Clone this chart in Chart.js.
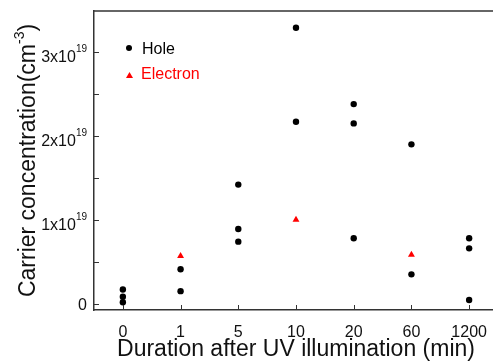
<!DOCTYPE html>
<html>
<head>
<meta charset="utf-8">
<script src="https://cdn.jsdelivr.net/npm/chart.js@4"></script>
<style>
  html, body { margin: 0; padding: 0; background: #fff; overflow: hidden; }
  #wrap { width: 510px; height: 364px; }
</style>
</head>
<body>
<div id="wrap"><canvas id="chart"></canvas></div>
<script>
// categories on the x axis (minutes after UV)
const durations = ["0", "1", "5", "10", "20", "60", "1200"];

// hole concentrations, units of 1e19 cm^-3
const holeTimes  = ["0", "0", "0", "1", "1", "5", "5", "5", "10", "10", "20", "20", "20", "60", "60", "1200", "1200", "1200"];
const holeValues = [0.17, 0.084, 0.017, 0.41, 0.15, 1.42, 0.89, 0.74, 3.29, 2.17, 2.38, 2.15, 0.78, 1.90, 0.35, 0.78, 0.66, 0.045];

// electron concentrations, units of 1e19 cm^-3
const electronTimes  = ["1", "10", "60"];
const electronValues = [0.57, 1.0, 0.585];

// y tick marks (every 0.5) and labelled ones
const yTicks = [0, 0.5, 1, 1.5, 2, 2.5, 3];
const yLabels = [[0, "0", ""], [1, "1x10", "19"], [2, "2x10", "19"], [3, "3x10", "19"]];

const FONT = "'Liberation Sans', Arial, sans-serif";
const AXIS = "#333";

const framePlugin = {
  id: "frame",
  afterDraw(chart) {
    const ctx = chart.ctx;
    const a = chart.chartArea;
    const x = chart.scales.x, y = chart.scales.y;
    ctx.save();
    ctx.strokeStyle = AXIS;
    ctx.lineWidth = 1.5;
    // top border
    ctx.beginPath();
    ctx.moveTo(a.left, a.top);
    ctx.lineTo(a.right, a.top);
    ctx.stroke();
    // inward ticks
    ctx.lineWidth = 1;
    ctx.beginPath();
    yTicks.forEach(v => {
      const py = Math.round(y.getPixelForValue(v)) + 0.5;
      ctx.moveTo(a.left, py);
      ctx.lineTo(a.left + 5, py);
    });
    durations.forEach((d, i) => {
      const px = Math.round(x.getPixelForValue(i)) + 0.5;
      ctx.moveTo(px, a.bottom);
      ctx.lineTo(px, a.bottom - 5);
    });
    ctx.stroke();

    // y tick labels with superscript
    ctx.fillStyle = "#111";
    ctx.textBaseline = "alphabetic";
    yLabels.forEach(([v, base, sup]) => {
      const py = y.getPixelForValue(v);
      const right = a.left - 7;
      ctx.font = "16px " + FONT;
      const bw = ctx.measureText(base).width;
      ctx.font = "10px " + FONT;
      const sw = sup ? ctx.measureText(sup).width : 0;
      const start = right - bw - sw;
      const baseY = sup ? py + 10 : py + 6;
      ctx.font = "16px " + FONT;
      ctx.fillText(base, start, baseY);
      if (sup) {
        ctx.font = "10px " + FONT;
        ctx.fillText(sup, start + bw, baseY - 10);
      }
    });

    // y axis title with superscript
    ctx.save();
    ctx.translate(35, (a.top + a.bottom) / 2);
    ctx.rotate(-Math.PI / 2);
    const t1 = "Carrier concentration(cm", t2 = "-3", t3 = ")";
    ctx.font = "23px " + FONT;
    const w1 = ctx.measureText(t1).width, w3 = ctx.measureText(t3).width;
    ctx.font = "14px " + FONT;
    const w2 = ctx.measureText(t2).width;
    let sx = -(w1 + w2 + w3) / 2;
    ctx.font = "23px " + FONT;
    ctx.fillText(t1, sx, 0);
    ctx.font = "14px " + FONT;
    ctx.fillText(t2, sx + w1, -11);
    ctx.font = "23px " + FONT;
    ctx.fillText(t3, sx + w1 + w2, 0);
    ctx.restore();

    // legend
    ctx.font = "16px " + FONT;
    ctx.fillStyle = "#000";
    ctx.beginPath();
    ctx.arc(129, 48, 3, 0, Math.PI * 2);
    ctx.fill();
    ctx.fillText("Hole", 142, 54);
    ctx.fillStyle = "#ff0000";
    ctx.beginPath();
    ctx.moveTo(126, 78);
    ctx.lineTo(133, 78);
    ctx.lineTo(129.5, 72);
    ctx.closePath();
    ctx.fill();
    ctx.fillText("Electron", 141, 79);
    ctx.restore();
  }
};

new Chart(document.getElementById("chart"), {
  type: "scatter",
  data: {
    labels: durations,
    datasets: [
      {
        label: "Hole",
        data: holeTimes.map((t, i) => ({ x: t, y: holeValues[i] })),
        backgroundColor: "#000",
        borderColor: "#000",
        pointStyle: "circle",
        pointRadius: 3.2,
        borderWidth: 0
      },
      {
        label: "Electron",
        data: electronTimes.map((t, i) => ({ x: t, y: electronValues[i] })),
        backgroundColor: "#ff0000",
        borderColor: "#ff0000",
        pointStyle: "triangle",
        pointRadius: 4,
        borderWidth: 0
      }
    ]
  },
  options: {
    responsive: true,
    maintainAspectRatio: false,
    animation: false,
    layout: { padding: { left: 0, top: 11, right: 12, bottom: 0 } },
    plugins: {
      legend: { display: false },
      tooltip: { enabled: false }
    },
    scales: {
      x: {
        type: "category",
        labels: durations,
        offset: true,
        grid: { display: false },
        border: { display: true, color: AXIS, width: 1.5 },
        ticks: { color: "#111", font: { size: 16, family: FONT }, padding: 5, maxRotation: 0, autoSkip: false },
        title: {
          display: true,
          text: "Duration after UV illumination (min)",
          color: "#111",
          font: { size: 23, family: FONT },
          padding: { top: 0, bottom: 1 }
        },
        afterFit: s => { s.height = 54; }
      },
      y: {
        min: -0.075,
        max: 3.49,
        grid: { display: false },
        border: { display: true, color: AXIS, width: 1.5 },
        ticks: { display: false },
        afterFit: s => { s.width = 94; }
      }
    }
  },
  plugins: [framePlugin]
});
</script>
</body>
</html>
